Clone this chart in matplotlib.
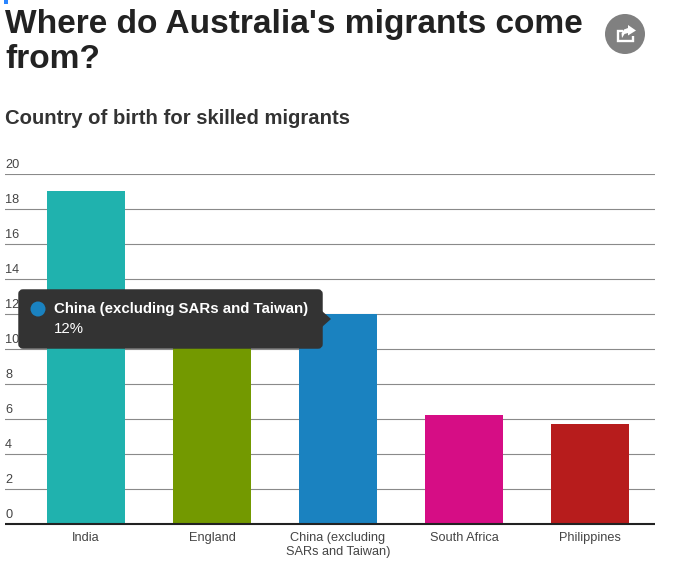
import matplotlib
matplotlib.use('Agg')
import matplotlib.pyplot as plt
from matplotlib.patches import FancyBboxPatch, Polygon, Circle, Rectangle
from matplotlib.transforms import ScaledTranslation

plt.rcParams['font.family'] = ['Liberation Sans', 'DejaVu Sans']

# Datos
countries = ['India', 'England', 'China (excluding\nSARs and Taiwan)', 'South Africa', 'Philippines']
percentages = [19.0, 11.0, 12.0, 6.2, 5.7]
bar_colors = ['#20b2ae', '#739900', '#1a82c0', '#d60d85', '#b71c1c']
y_ticks = [0, 2, 4, 6, 8, 10, 12, 14, 16, 18, 20]

W, H = 678, 567
fig = plt.figure(figsize=(W / 100, H / 100), dpi=100)

# Ejes principales, colocados en pixeles
left, right, top, bottom = 5, 655, 174, 523.5
ax = fig.add_axes([left / W, 1 - bottom / H, (right - left) / W, (bottom - top) / H])
ax.bar(range(len(countries)), percentages, width=0.619, color=bar_colors, zorder=2)
ax.set_xlim(-0.643, 4.516)
ax.set_ylim(0, 20)
ax.set_yticks(y_ticks)
ax.set_yticklabels([str(t) for t in y_ticks])
ax.set_xticks(range(len(countries)))
ax.set_xticklabels(countries, linespacing=1.2)
ax.tick_params(axis='y', length=0, pad=0, labelsize=9.2, labelcolor='#444444')
ax.tick_params(axis='x', length=0, pad=6, labelsize=9.2, labelcolor='#444444')
label_shift = ScaledTranslation(0, 2 / 72, fig.dpi_scale_trans)
for label in ax.get_yticklabels():
    label.set_horizontalalignment('left')
    label.set_verticalalignment('bottom')
    label.set_transform(label.get_transform() + label_shift)
ax.grid(axis='y', color='#8a8a8a', linewidth=0.8, zorder=1)
ax.set_axisbelow(True)
for side in ['top', 'left', 'right']:
    ax.spines[side].set_visible(False)
ax.spines['bottom'].set_color('#222222')
ax.spines['bottom'].set_linewidth(1.5)
ax.spines['bottom'].set_capstyle('butt')
ax.spines['bottom'].set_zorder(5)

# Capa superior en pixeles para titulos, boton y tooltip
overlay = fig.add_axes([0, 0, 1, 1], zorder=10)
overlay.set_xlim(0, W)
overlay.set_ylim(H, 0)
overlay.axis('off')
overlay.patch.set_alpha(0)

overlay.text(5, 24, "Where do Australia's migrants come", fontsize=24.1, fontweight='bold',
             color='#222222', va='center', ha='left')
overlay.text(5, 59, 'from?', fontsize=24.1, fontweight='bold', color='#222222', va='center', ha='left')
overlay.text(5, 118, 'Country of birth for skilled migrants', fontsize=14.6, fontweight='bold',
             color='#333333', va='center', ha='left')

# Marca azul arriba a la izquierda
overlay.add_patch(Rectangle((4, 0), 3.5, 4, color='#2a85ff', lw=0))

# Boton de compartir
overlay.add_patch(Circle((625, 34), 20, color='#808080', lw=0))
overlay.plot([623, 618, 618, 633, 633], [31, 31, 41, 41, 36], color='white', lw=1.7,
             solid_joinstyle='miter', solid_capstyle='butt')
overlay.add_patch(Polygon([(628, 25), (636, 30.5), (628, 35.5), (628, 33), (624.5, 34), (622, 38),
                           (621.5, 33.5), (624, 29.5), (628, 28)], closed=True, facecolor='white', lw=0))

# Tooltip
overlay.add_patch(FancyBboxPatch((20, 291), 301, 56, boxstyle='round,pad=0,rounding_size=3',
                                 mutation_aspect=1, facecolor='#333333', edgecolor='#333333', lw=2.5))
overlay.add_patch(Polygon([(322, 311), (331, 319), (322, 327)], closed=True, facecolor='#333333', lw=0))
overlay.add_patch(Circle((38, 309), 7.5, color=bar_colors[2], lw=0))
overlay.text(54, 309, 'China (excluding SARs and Taiwan)', fontsize=10.8, fontweight='bold',
             color='white', va='center', ha='left')
overlay.text(54, 329, '12%', fontsize=10.8, color='white', va='center', ha='left')

fig.savefig('out.png', dpi=100, facecolor='white')
